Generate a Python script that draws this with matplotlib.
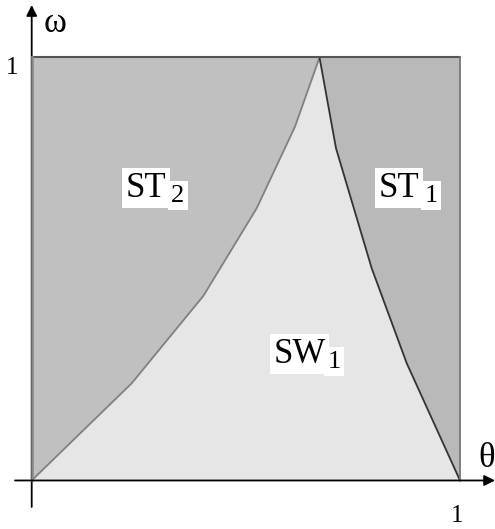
import matplotlib
matplotlib.use("Agg")
import matplotlib.pyplot as plt

# Boundary between ST2 (left) and SW1
left_theta = [0.0, 0.2335, 0.4007, 0.5253, 0.6147, 0.672]
left_omega = [0.0, 0.2298, 0.4362, 0.6435, 0.8364, 1.0]
# Boundary between SW1 and ST1 (right)
right_theta = [0.672, 0.7105, 0.7938, 0.8756, 1.0]
right_omega = [1.0, 0.7853, 0.5017, 0.2771, 0.0]

region_main = ["ST", "SW", "ST"]
region_sub = ["2", "1", "1"]
main_pos = [(0.220, 0.671), (0.564, 0.2785), (0.8097, 0.671)]
sub_pos = [(0.326, 0.659), (0.690, 0.2667), (0.9165, 0.659)]

fig = plt.figure(figsize=(4.95, 5.29), dpi=100)
ax = fig.add_axes([0, 0, 1, 1])
ax.set_xlim(-0.074, 1.0817)
ax.set_ylim(-0.1147, 1.1359)
ax.axis("off")

# ST2 region
ax.fill(left_theta + [0.0], left_omega + [1.0], facecolor="#c0c0c0",
        edgecolor="none", zorder=1)
# SW1 region
ax.fill(left_theta + right_theta[1:], left_omega + right_omega[1:],
        facecolor="#e6e6e6", edgecolor="none", zorder=1)
# ST1 region
ax.fill(right_theta + [1.0], right_omega + [1.0], facecolor="#b9b9b9",
        edgecolor="none", zorder=1)

# boundaries
ax.plot(left_theta, left_omega, color="#808080", lw=1.3, zorder=3)
ax.plot(right_theta, right_omega, color="#333333", lw=1.3, zorder=3)
ax.plot([0, 1], [1, 1], color="#555555", lw=1.5, zorder=3)
ax.plot([1, 1], [0, 1], color="#777777", lw=1.3, zorder=3)

# axes arrows
ax.annotate("", xy=(0.0, 1.124), xytext=(0.0, -0.0626),
            arrowprops=dict(arrowstyle="-|>", color="black", lw=1.3,
                            mutation_scale=16, shrinkA=0, shrinkB=0), zorder=2)
ax.annotate("", xy=(1.0817, 0.0), xytext=(-0.039, 0.0),
            arrowprops=dict(arrowstyle="-|>", color="black", lw=1.3,
                            mutation_scale=16, shrinkA=0, shrinkB=0), zorder=5)
ax.plot([0, 0], [0, 1], color="#888888", lw=1.8, zorder=4)

serif = ["Liberation Serif", "DejaVu Serif"]
ax.text(0.055, 1.081, "ω", fontsize=25, family=serif, ha="center", va="center")
ax.text(1.044, 0.052, "θ", fontsize=25, family=serif, ha="left", va="center")
ax.text(-0.045, 0.974, "1", fontsize=18, family=serif, ha="center", va="center")
ax.text(0.994, -0.0835, "1", fontsize=18, family=serif, ha="center", va="center")

for main, sub, (mx, my), (sx, sy) in zip(region_main, region_sub, main_pos, sub_pos):
    ax.text(mx, my, main, fontsize=25, family=serif, ha="left", va="baseline",
            bbox=dict(facecolor="white", edgecolor="none", pad=2.5), zorder=6)
    ax.text(sx, sy, sub, fontsize=19, family=serif, ha="left", va="baseline",
            bbox=dict(facecolor="white", edgecolor="none", pad=2.5), zorder=7)

fig.savefig("out.png", dpi=100)
